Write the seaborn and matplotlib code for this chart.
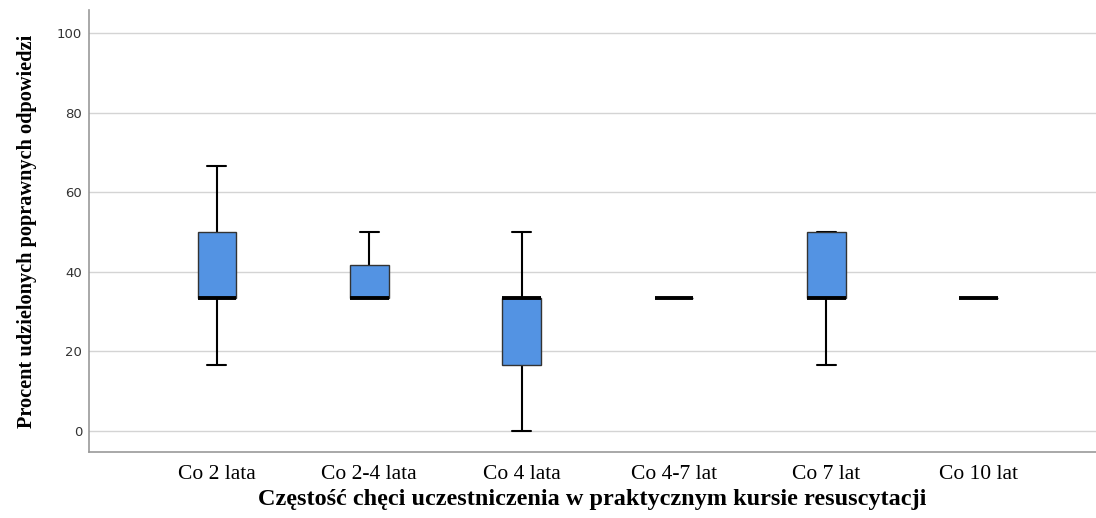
import numpy as np
import pandas as pd
import matplotlib
matplotlib.use('Agg')
import matplotlib.pyplot as plt
import seaborn as sns

# kategorie na osi X
kategorie = ['Co 2 lata', 'Co 2-4 lata', 'Co 4 lata', 'Co 4-7 lat', 'Co 7 lat', 'Co 10 lat']
# wyniki (procent poprawnych odpowiedzi) w kazdej grupie
co_2 = [16.67, 33.33, 33.33, 50.0, 66.67]
co_2_4 = [33.33, 33.33, 50.0]
co_4 = [0.0, 16.67, 33.33, 33.33, 50.0]
co_4_7 = [33.33, 33.33, 33.33]
co_7 = [16.67, 33.33, 33.33, 50.0, 50.0]
co_10 = [33.33]
y_ticks = [0, 20, 40, 60, 80, 100]

grupy = [co_2, co_2_4, co_4, co_4_7, co_7, co_10]
df = pd.DataFrame({
    'grupa': np.repeat(kategorie, [len(g) for g in grupy]),
    'wynik': np.concatenate(grupy),
})

sns.set_style('white')
fig = plt.figure(figsize=(10.96, 5.18), dpi=100)
ax = fig.add_axes([0.0812, 0.1274, 0.9188, 0.8533])

ax.grid(axis='y', color='#d4d4d4', linewidth=1.0, zorder=0)
ax.set_axisbelow(True)

sns.boxplot(data=df, x='grupa', y='wynik', order=kategorie, ax=ax,
            width=0.253, color='#5393e3', saturation=1, fliersize=0, whis=1.5,
            linewidth=1.0,
            boxprops=dict(edgecolor='#333333', linewidth=1.0, zorder=3),
            medianprops=dict(color='black', linewidth=2.8, zorder=4),
            whiskerprops=dict(color='black', linewidth=1.5),
            capprops=dict(color='black', linewidth=1.5),
            capwidths=0.125)

ax.set_xlim(-0.84, 5.77)
ax.set_ylim(-5.3, 105.8)
ax.set_yticks(y_ticks)
ax.tick_params(axis='y', labelsize=9.5, colors='#333333', length=0, pad=5)
ax.tick_params(axis='x', length=0, pad=9)
for lab in ax.get_xticklabels():
    lab.set_fontfamily('Liberation Serif')
    lab.set_fontsize(15.5)
    lab.set_color('black')

for s in ['top', 'right']:
    ax.spines[s].set_visible(False)
for s in ['left', 'bottom']:
    ax.spines[s].set_color('#999999')
    ax.spines[s].set_linewidth(1.2)

ax.set_xlabel('Częstość chęci uczestniczenia w praktycznym kursie resuscytacji',
              fontfamily='Liberation Serif', fontweight='bold', fontsize=17.5,
              labelpad=4, color='black')
ax.set_ylabel('Procent udzielonych poprawnych odpowiedzi',
              fontfamily='Liberation Serif', fontweight='bold', fontsize=14.6,
              labelpad=14, color='black')

fig.savefig('out.png', dpi=100)
